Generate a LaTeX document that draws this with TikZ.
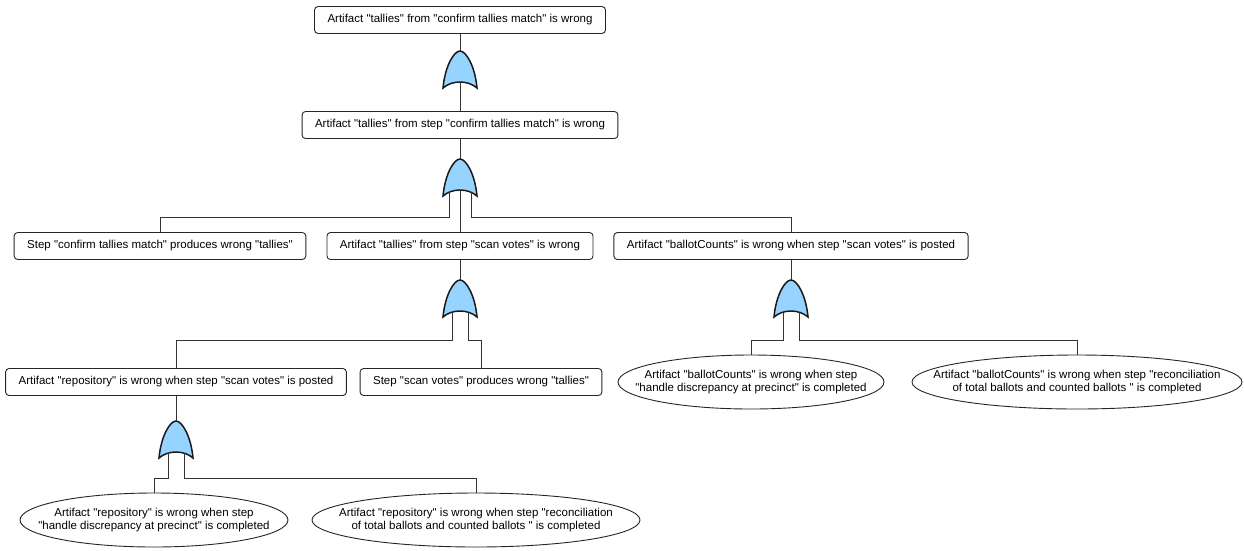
\documentclass[tikz,border=0pt]{standalone}
\usepackage{fontspec}
\setmainfont{Liberation Sans}[Ligatures=TeXOff]
\usetikzlibrary{shapes.geometric}
\definecolor{gateblue}{RGB}{150,212,255}
\tikzset{
  event/.style={draw=black!85, line width=0.9pt, rounded corners=3.5pt, minimum height=27pt, inner xsep=13pt,
    font=\fontsize{11.5}{13}\selectfont},
  basic/.style={ellipse, draw=black!85, line width=0.9pt, align=center, inner xsep=-40pt, inner ysep=0pt,
    minimum height=54pt, font=\fontsize{11.5}{13.5}\selectfont},
  wire/.style={draw=black!80, line width=0.9pt},
  gate/.style={draw=black!90, line width=1.5pt, fill=gateblue},
  pics/orgate/.style={code={
    \draw[gate] (-17,0) .. controls (-15,-22) and (-6,-37) .. (0,-37)
      .. controls (6,-37) and (15,-22) .. (17,0)
      .. controls (8,-8) and (-8,-8) .. (-17,0) -- cycle;
    \coordinate (-out) at (0,-37);
    \coordinate (-l) at (-11,-3.8);
    \coordinate (-m) at (0,-6);
    \coordinate (-r) at (11,-3.8);
    \coordinate (-ll) at (-8,-4.8);
    \coordinate (-rr) at (8,-4.8);
  }}
}

\begin{document}
\begin{tikzpicture}[x=1pt,y=-1pt]
  \useasboundingbox (0,0) rectangle (1244,550);

  % events
  \node[event] (top) at (460,20) {Artifact "tallies" from "confirm tallies match" is wrong};
  \node[event] (tsc) at (460,125) {Artifact "tallies" from step "confirm tallies match" is wrong};
  \node[event] (sct) at (160,246) {Step "confirm tallies match" produces wrong "tallies"};
  \node[event] (tsv) at (460,246) {Artifact "tallies" from step "scan votes" is wrong};
  \node[event] (bc)  at (791,246) {Artifact "ballotCounts" is wrong when step "scan votes" is posted};
  \node[event] (rep) at (176,382) {Artifact "repository" is wrong when step "scan votes" is posted};
  \node[event] (svt) at (481,382) {Step "scan votes" produces wrong "tallies"};

  % basic events
  \node[basic, minimum width=266pt] (bch) at (751,382)
    {Artifact "ballotCounts" is wrong when step\\ "handle discrepancy at precinct" is completed};
  \node[basic, minimum width=330pt] (bcr) at (1077,382)
    {Artifact "ballotCounts" is wrong when step "reconciliation\\ of total ballots and counted ballots " is completed};
  \node[basic, minimum width=268pt] (reph) at (154,520)
    {Artifact "repository" is wrong when step\\ "handle discrepancy at precinct" is completed};
  \node[basic, minimum width=328pt] (repr) at (476,520)
    {Artifact "repository" is wrong when step "reconciliation\\ of total ballots and counted ballots " is completed};

  % or gates
  \pic (g1) at (460,88) {orgate};
  \pic (g2) at (460,196) {orgate};
  \pic (g3) at (460,317) {orgate};
  \pic (g5) at (791,317) {orgate};
  \pic (g4) at (176,458) {orgate};

  \coordinate (bus2) at (0,217);
  \coordinate (bus3) at (0,340);
  \coordinate (bus4) at (0,478);

  % connectors
  \draw[wire] (top.south) -- (g1-out);
  \draw[wire] (g1-m) -- (tsc.north);
  \draw[wire] (tsc.south) -- (g2-out);
  \draw[wire] (g2-l) |- (bus2 -| sct.north) -- (sct.north);
  \draw[wire] (g2-m) -- (tsv.north);
  \draw[wire] (g2-r) |- (bus2 -| bc.north) -- (bc.north);
  \draw[wire] (tsv.south) -- (g3-out);
  \draw[wire] (g3-ll) |- (bus3 -| rep.north) -- (rep.north);
  \draw[wire] (g3-rr) |- (bus3 -| svt.north) -- (svt.north);
  \draw[wire] (bc.south) -- (g5-out);
  \draw[wire] (g5-ll) |- (bus3 -| bch.north) -- (bch.north);
  \draw[wire] (g5-rr) |- (bus3 -| bcr.north) -- (bcr.north);
  \draw[wire] (rep.south) -- (g4-out);
  \draw[wire] (g4-ll) |- (bus4 -| reph.north) -- (reph.north);
  \draw[wire] (g4-rr) |- (bus4 -| repr.north) -- (repr.north);
\end{tikzpicture}
\end{document}
